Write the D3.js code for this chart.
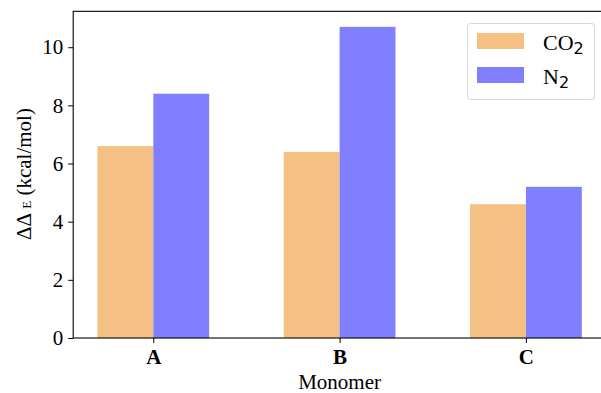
<!DOCTYPE html>
<html lang="en">
<head>
<meta charset="utf-8">
<title>monomer energies</title>
<script src="https://cdn.jsdelivr.net/npm/d3@7"></script>
<style>
  body{ margin:0; background:#fff; }
  svg{ display:block; }
  text{ font-family:"Liberation Serif", serif; fill:#000; }
  .tick text{ font-size:21px; font-family:"Liberation Serif", serif; }
  .domain, .tick line{ stroke:#000; }
</style>
</head>
<body>
<div id="chart"></div>
<script>
  var monomers = ["A", "B", "C"]
  var co2 = [6.6, 6.4, 4.6]
  var n2 = [8.4, 10.7, 5.2]
  var yTicks = [0, 2, 4, 6, 8, 10]
  var seriesNames = ["CO", "N"]
  var colors = ["#f4c083", "#8080ff"]

  var w = 601, h = 393
  var barW = 0.3
  var plotL = 73.2, plotB = 338, plotT = 11.3
  var serif = "Liberation Serif"
  var x = d3.scaleLinear().domain([-0.43, 2.43]).range([plotL, 606])
  var y = d3.scaleLinear().domain([0, d3.max(n2.concat(co2)) * 1.05]).range([plotB, plotT])

  var svg = d3.select("#chart").append("svg").attr("width", w).attr("height", h)

  // bars
  var series = [co2, n2]
  series.forEach(function(vals, s){
    svg.selectAll(".bar" + s)
      .data(vals)
      .enter()
      .append("rect")
      .attr("class", "bar" + s)
      .attr("x", function(d, i){ return s == 0 ? x(i - barW) : x(i) })
      .attr("width", function(d, i){ return x(i + barW) - x(i) })
      .attr("y", function(d){ return y(d) })
      .attr("height", function(d){ return plotB - y(d) })
      .attr("fill", colors[s])
  })

  // frame (top + right go off the picture edge like the original)
  svg.append("rect")
    .attr("x", plotL).attr("y", plotT)
    .attr("width", x(2.43) - plotL).attr("height", plotB - plotT)
    .attr("fill", "none").attr("stroke", "#000").attr("stroke-width", 1.1)

  var yAxis = svg.append("g")
    .attr("transform", "translate(" + plotL + ",0)")
    .call(d3.axisLeft(y).tickValues(yTicks).tickSize(5).tickPadding(5))
  yAxis.select(".domain").remove()

  var xAxis = svg.append("g")
    .attr("transform", "translate(0," + plotB + ")")
    .call(d3.axisBottom(x).tickValues([0, 1, 2]).tickSize(5).tickPadding(6)
      .tickFormat(function(d){ return monomers[d] }))
  xAxis.select(".domain").remove()
  xAxis.selectAll(".tick text").attr("font-weight", "bold")

  // axis labels
  svg.append("text")
    .attr("x", x(1)).attr("y", 389)
    .attr("text-anchor", "middle")
    .attr("font-family", serif)
    .attr("font-size", 21)
    .text("Monomer")

  var yl = svg.append("text")
    .attr("transform", "translate(31,174) rotate(-90)")
    .attr("text-anchor", "middle")
    .attr("font-family", serif)
    .attr("font-size", 21)
  yl.append("tspan").text("ΔΔ ")
  yl.append("tspan").attr("font-size", 13).text("E")
  yl.append("tspan").text(" (kcal/mol)")

  // legend
  var lg = svg.append("g")
  lg.append("rect")
    .attr("x", 467.5).attr("y", 23.5).attr("width", 127).attr("height", 76)
    .attr("rx", 3).attr("fill", "#fff").attr("fill-opacity", 0.8)
    .attr("stroke", "#d6d6d6")
  seriesNames.forEach(function(name, i){
    var yy = 33 + i * 34
    lg.append("rect")
      .attr("x", 477).attr("y", yy).attr("width", 47).attr("height", 16)
      .attr("fill", colors[i])
    var t = lg.append("text")
      .attr("x", 543).attr("y", yy + 16.5)
      .attr("font-family", serif)
      .attr("font-size", 22)
    t.append("tspan").text(name)
    t.append("tspan")
      .attr("dy", 4)
      .attr("font-size", 16)
      .attr("font-family", "DejaVu Sans")
      .text("2")
  })
</script>
</body>
</html>
